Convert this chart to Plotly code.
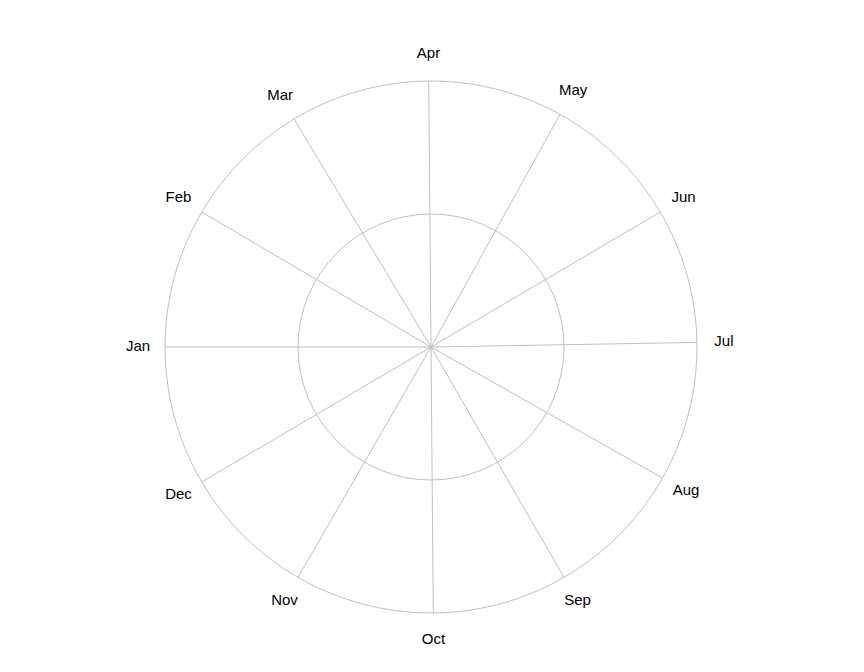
import plotly.graph_objects as go

# Month labels and their start day-of-year (leap year, 366 days)
months = ["Jan", "Feb", "Mar", "Apr", "May", "Jun",
          "Jul", "Aug", "Sep", "Oct", "Nov", "Dec"]
month_start_day = [0, 31, 60, 91, 121, 152, 182, 213, 244, 274, 305, 335]
days_in_year = 366

# Radial gridline values
radial_ticks = [1, 2]
radial_max = 2

# No visible data series in the reference chart
series_day = []
series_value = []

tick_angles = [d * 360.0 / days_in_year for d in month_start_day]

W, H = 864, 672
cx, cy = 423, 339          # polar centre in figure pixels (page adds ~8px body margin)
r_plot, r_label = 266, 293  # outer ring radius, label ring radius (pixels)


def dom(rp):
    return dict(x=[(cx - rp) / W, (cx + rp) / W],
                y=[(H - cy - rp) / H, (H - cy + rp) / H])


fig = go.Figure()
fig.add_trace(go.Scatterpolar(
    r=series_value,
    theta=[d * 360.0 / days_in_year for d in series_day],
    mode="lines",
    showlegend=False,
    subplot="polar",
))
# Month labels, centred on a ring just outside the outer circle
fig.add_trace(go.Scatterpolar(
    r=[1] * len(months),
    theta=tick_angles,
    mode="text",
    text=months,
    textposition="middle center",
    textfont=dict(family="Liberation Sans, Arial, sans-serif", size=15, color="black"),
    cliponaxis=False,
    hoverinfo="skip",
    showlegend=False,
    subplot="polar2",
))

hidden_axis = dict(visible=False, showgrid=False, showline=False,
                   showticklabels=False, ticks="")

fig.update_layout(
    width=W, height=H,
    paper_bgcolor="white",
    plot_bgcolor="white",
    margin=dict(l=0, r=0, t=0, b=0),
    font=dict(family="Liberation Sans, Arial, sans-serif", size=15, color="black"),
    showlegend=False,
    polar=dict(
        bgcolor="white",
        domain=dom(r_plot),
        angularaxis=dict(
            rotation=180,
            direction="clockwise",
            thetaunit="degrees",
            tickmode="array",
            tickvals=tick_angles,
            showticklabels=False,
            showgrid=True,
            gridcolor="#c0c0c0",
            gridwidth=1,
            showline=True,
            linecolor="#c0c0c0",
            linewidth=1,
            ticks="",
        ),
        radialaxis=dict(
            range=[0, radial_max],
            tickmode="array",
            tickvals=radial_ticks,
            showticklabels=False,
            ticks="",
            showline=False,
            showgrid=True,
            gridcolor="#c0c0c0",
            gridwidth=1,
        ),
    ),
    polar2=dict(
        bgcolor="rgba(0,0,0,0)",
        domain=dom(r_label),
        angularaxis=dict(rotation=180, direction="clockwise", thetaunit="degrees",
                         **hidden_axis),
        radialaxis=dict(range=[0, 1], **hidden_axis),
    ),
)

fig.write_html("out.html")
